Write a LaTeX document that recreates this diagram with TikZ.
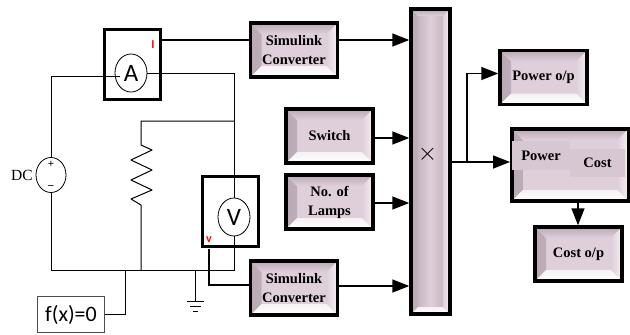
\documentclass[tikz,border=0pt]{standalone}
\usepackage{fontspec}
\setmainfont{Liberation Serif}
\newfontfamily\metersf{Carlito}
\usetikzlibrary{positioning,arrows.meta,shapes.geometric}
\definecolor{blockmid}{HTML}{DECFDA}
\definecolor{blockpatch}{HTML}{D6C7D2}
\definecolor{blockdark}{HTML}{B8A9B4}
\definecolor{blockedge}{HTML}{F6F1F4}
\newcommand{\bevelfaces}[1]{%
  \shade[left color=blockdark,right color=blockmid] (path picture bounding box.north west) -- (path picture bounding box.south west)
    -- ([shift={(#1,#1)}]path picture bounding box.south west) -- ([shift={(#1,-#1)}]path picture bounding box.north west) -- cycle;
  \shade[top color=blockdark,bottom color=blockmid] (path picture bounding box.north west) -- (path picture bounding box.north east)
    -- ([shift={(-#1,-#1)}]path picture bounding box.north east) -- ([shift={(#1,-#1)}]path picture bounding box.north west) -- cycle;
  \shade[left color=blockmid,right color=blockedge] (path picture bounding box.north east) -- (path picture bounding box.south east)
    -- ([shift={(-#1,#1)}]path picture bounding box.south east) -- ([shift={(-#1,-#1)}]path picture bounding box.north east) -- cycle;
  \shade[top color=blockedge,bottom color=white] (path picture bounding box.south west) -- (path picture bounding box.south east)
    -- ([shift={(-#1,#1)}]path picture bounding box.south east) -- ([shift={(#1,#1)}]path picture bounding box.south west) -- cycle;
}
\tikzset{
  simblock/.style={draw=black,line width=3.5pt,fill=blockmid,minimum width=87pt,minimum height=54pt,inner sep=0pt,
    align=center,font=\fontsize{14.5}{19}\bfseries\selectfont,path picture={\bevelfaces{11pt}}},
  muxblock/.style={draw=black,line width=3.5pt,left color=blockdark,right color=blockdark,middle color=blockmid,
    minimum width=39pt,minimum height=305pt,inner sep=0pt,path picture={\bevelfaces{7pt}}},
  patchbox/.style={fill=blockpatch,inner sep=0pt,font=\fontsize{14.5}{19}\bfseries\selectfont},
  meterbox/.style={draw=black,line width=2.8pt,minimum width=56pt,minimum height=70pt},
  meter/.style={draw,ellipse,line width=.8pt,minimum width=32pt,minimum height=38pt,inner sep=0pt,font=\metersf\fontsize{25}{25}\selectfont},
  wire/.style={line width=1pt},
  sigwire/.style={line width=1.7pt},
  tag/.style={text=red,inner sep=0pt,font=\metersf\bfseries\fontsize{12}{12}\selectfont}
}
\begin{document}
\begin{tikzpicture}[x=1pt,y=-1pt,on grid,>={Triangle[length=17pt,width=13pt]}]
    \useasboundingbox (0,0) rectangle (630,335);
    % simulink side
    \node[simblock] (b_sim0) at (294,50) {Simulink\\Converter};
    \node[simblock] (b_switch) [below right=86pt and 35.5pt of b_sim0] {Switch};
    \node[simblock] (b_lamps) [below=66pt of b_switch] {No. of\\Lamps};
    \node[simblock] (b_sim1) [below left=86pt and 35.5pt of b_lamps] {Simulink\\Converter};
    \node[muxblock] (b_mux) at (430.5,161.5) {};
    \node[inner sep=0pt,font=\fontsize{32}{32}\selectfont] (t_mux) at (427.5,154.5) {$\times$};
    \node[simblock] (b_powerout) at (543.5,77.5) {Power o/p};
    \node[simblock,minimum width=116.5pt,minimum height=72pt] (b_cost) at (570,165) {};
    \node[patchbox,minimum width=58pt,minimum height=29pt] (t_power) [above left=9.5pt and 29pt of b_cost] {Power};
    \node[patchbox,minimum width=55pt,minimum height=28pt] (t_cost) [below right=7.5pt and 56.5pt of t_power] {Cost};
    \node[simblock] (b_costout) at (578.5,254) {Cost o/p};
    % circuit side
    \node[meterbox] (b_amp) at (132.5,64.5) {};
    \node[meter] (m_amp) at (131,73) {A};
    \node[tag] (t_i) at (153,45) {I};
    \node[meterbox] (b_volt) at (230.5,211.5) {};
    \node[meter] (m_volt) at (234,217) {V};
    \node[tag] (t_v) at (209,240) {v};
    \node[draw,ellipse,line width=.8pt,minimum width=30pt,minimum height=35pt,inner sep=0pt] (v_src) at (51,175) {};
    \node[inner sep=0pt,font=\bfseries\fontsize{11}{11}\selectfont] (t_plus) at (51,164) {+};
    \node[inner sep=0pt,font=\bfseries\fontsize{11}{11}\selectfont] (t_minus) at (51,187) {--};
    \node[inner sep=0pt,font=\fontsize{15.5}{15.5}\selectfont] (t_dc) [left=29pt of v_src] {DC};
    \node[draw=black!70,line width=1pt,minimum width=67pt,minimum height=36pt,inner sep=0pt,font=\metersf\fontsize{22}{22}\selectfont] (b_fx) at (71,314.5) {f(x)=0};
    \coordinate (j_tl) at (51,76.5);
    \coordinate (j_tr) at (234,73);
    \coordinate (j_res) at (234,121);
    \coordinate (j_restop) at (141,121);
    \coordinate (j_bl) at (51,270);
    \coordinate (j_br) at (234,270);
    \coordinate (j_resbot) at (141,270);
    \coordinate (j_fx) at (125.5,270);
    \coordinate (j_gnd) at (195,270);
    \coordinate (g_end) at (195,301);
    \coordinate (j_split) at (467,162);
    \draw[wire] (v_src.north) -- (j_tl) -- ([shift={(5pt,-3.5pt)}]m_amp.west);
    \draw[wire] (m_amp.east) -- (j_tr) -- (m_volt.north);
    \draw[wire] (m_volt.south) -- (j_br) -- (j_bl) -- (v_src.south);
    \draw[wire,line join=round] (j_res) -- (j_restop) -- (141,145) -- (152,150) -- (131,160) -- (152,170) -- (131,180) -- (152,190) -- (131,199) -- (141,205) -- (j_resbot);
    \draw[wire] (b_fx.east) -| (j_fx);
    \draw[wire] (j_gnd) -- (g_end);
    \draw[wire] (187,301) -- (204,301) (190,306) -- (201,306) (193,311) -- (198,311);
    \draw[sigwire] (b_amp.east|-0,40) -- (b_sim0.west|-0,40);
    \draw[sigwire] (209,249) |- (b_sim1.west|-0,285);
    \path[sigwire,->]
    (b_sim0.east|-0,40) edge (b_mux.west|-0,40)
    (b_switch.east|-0,138) edge (b_mux.west|-0,138)
    (b_lamps.east|-0,203) edge (b_mux.west|-0,203)
    (b_sim1.east|-0,286) edge (b_mux.west|-0,286)
    (b_mux.east|-j_split) edge (b_cost.west|-j_split)
    (b_cost.south-|578,0) edge (b_costout.north-|578,0)
    ; %end path
    \draw[sigwire,->] (j_split) |- (b_powerout.west|-0,73.5);
  \end{tikzpicture}
\end{document}
